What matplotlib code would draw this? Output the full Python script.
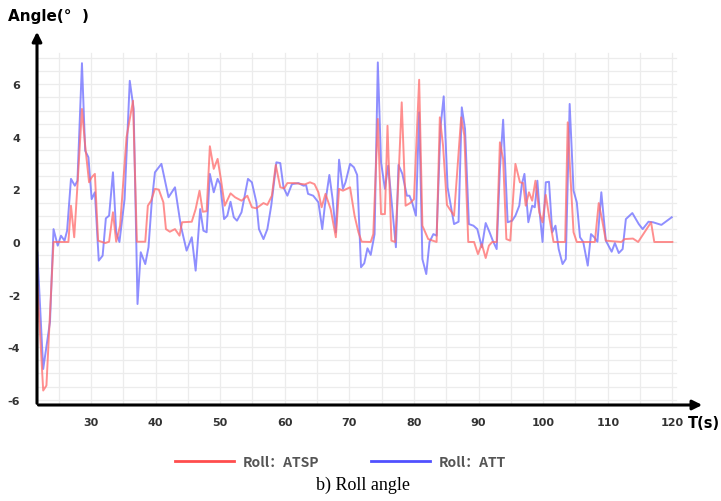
import numpy as np
import matplotlib.pyplot as plt
from matplotlib.lines import Line2D

plt.rcParams['axes.unicode_minus'] = False

# Roll: ATT (blue)
t_att = [21.7, 22.6, 23.65, 24.2, 24.85, 25.35, 25.9, 26.3, 26.9, 27.5, 27.9, 28.6, 29.1, 29.6,
         30.1, 30.6, 31.2, 31.8, 32.3, 32.8, 33.4, 33.9, 34.4, 35.2, 36.0, 36.6, 37.2, 37.7,
         38.4, 38.9, 39.4, 39.9, 40.9, 42.0, 43.0, 43.9, 44.8, 45.6, 46.2, 46.9, 47.4, 47.9,
         48.4, 49.0, 49.6, 50.0, 50.6, 51.1, 51.6, 52.1, 52.6, 53.3, 54.3, 54.9, 55.6, 56.0,
         56.7, 57.3, 57.9, 58.7, 59.3, 59.8, 60.4, 61.1, 62.1, 62.9, 63.3, 63.6, 64.4, 65.2,
         65.8, 66.2, 66.9, 67.4, 67.9, 68.4, 69.0, 69.4, 70.1, 70.7, 71.2, 71.8, 72.3, 72.8,
         73.3, 73.9, 74.4, 74.9, 75.5, 76.0, 76.5, 77.2, 77.6, 78.2, 78.9, 79.3, 79.7, 80.3,
         80.8, 81.3, 81.9, 82.4, 83.0, 83.5, 84.1, 84.6, 85.2, 85.8, 86.2, 86.9, 87.4, 87.9,
         88.5, 89.2, 89.8, 90.5, 91.1, 91.7, 92.2, 92.8, 93.3, 93.8, 94.5, 95.2, 95.7, 96.3,
         96.7, 97.1, 97.7, 98.3, 98.7, 99.1, 99.5, 99.9, 100.4, 100.9, 101.4, 101.9, 102.4,
         103.0, 103.5, 104.1, 104.7, 105.2, 105.7, 106.2, 106.9, 107.4, 107.9, 108.4, 109.0,
         109.7, 110.6, 111.1, 111.7, 112.3, 112.8, 113.8, 114.8, 115.4, 116.3, 117.0, 118.3, 119.9]
roll_att = [-0.4, -4.83, -3.04, 0.49, -0.14, 0.24, 0.05, 0.43, 2.4, 2.14, 2.33, 6.8, 3.47, 3.22,
            1.63, 1.89, -0.71, -0.52, 0.9, 1.0, 2.65, 0.37, 0.0, 1.63, 6.13, 5.06, -2.36, -0.39,
            -0.84, -0.2, 1.51, 2.65, 2.97, 1.7, 2.08, 0.62, -0.33, 0.18, -1.09, 1.25, 0.43, 0.37,
            2.59, 1.89, 2.4, 2.2, 0.87, 1.0, 1.53, 0.94, 0.81, 1.13, 2.4, 2.27, 1.51, 0.49,
            0.11, 0.49, 1.38, 3.03, 3.0, 2.08, 1.76, 2.2, 2.24, 2.14, 2.16, 1.83, 1.76, 1.51,
            0.49, 1.38, 2.55, 1.63, 0.37, 3.13, 2.02, 2.27, 2.97, 2.84, 2.55, -0.96, -0.81, -0.24,
            -0.49, 0.3, 6.83, 3.03, 2.02, 2.9, 1.63, -0.2, 2.93, 2.59, 1.76, 1.76, 1.51, 1.0,
            4.93, -0.65, -1.22, 0.0, 0.3, 0.24, 4.36, 5.54, 2.08, 1.25, 0.68, 0.77, 5.12, 4.3,
            0.68, 0.62, 0.49, -0.2, 0.72, 0.37, 0.05, -0.27, 2.78, 4.65, 0.75, 0.81, 1.0, 1.38,
            2.2, 2.59, 0.75, 1.38, 1.32, 2.33, 1.0, 0.0, 2.27, 2.29, 0.37, 0.62, -0.27,
            -0.84, -0.65, 5.25, 1.95, 1.51, 0.18, 0.0, -0.9, 0.3, 0.18, 0.01, 1.89,
            0.05, -0.37, -0.04, -0.42, -0.27, 0.87, 1.1, 0.68, 0.49, 0.77, 0.75, 0.65, 0.94]

# Roll: ATSP (red)
t_atsp = [21.7, 22.6, 23.1, 24.2, 26.5, 26.9, 27.4, 27.9, 28.6, 29.1, 29.7, 30.1, 30.6, 31.1,
          32.2, 32.8, 33.4, 33.9, 34.5, 35.5, 36.5, 37.1, 38.4, 38.8, 39.3, 39.9, 40.5, 41.2,
          41.6, 42.2, 43.0, 43.7, 44.1, 45.6, 46.2, 46.8, 47.3, 47.9, 48.4, 49.0, 49.6, 50.1,
          50.7, 51.6, 52.3, 53.3, 54.2, 54.9, 55.6, 56.7, 57.3, 58.0, 58.6, 59.3, 59.9, 60.4,
          61.5, 63.1, 63.9, 64.6, 65.2, 65.7, 66.3, 67.1, 67.9, 68.4, 69.0, 70.1, 70.8, 71.4,
          71.9, 73.3, 73.7, 74.4, 74.9, 75.5, 75.9, 76.5, 77.1, 77.6, 78.1, 78.7, 79.4, 80.0,
          80.8, 81.3, 82.2, 83.5, 84.0, 84.5, 85.1, 85.7, 86.2, 87.3, 87.8, 88.4, 89.3, 89.9,
          90.5, 91.1, 91.6, 92.1, 92.8, 93.3, 93.8, 94.3, 94.9, 95.7, 96.4, 96.9, 97.3, 97.8,
          98.3, 98.8, 99.4, 99.9, 100.4, 100.9, 101.6, 103.4, 103.8, 104.1, 104.7, 105.2,
          108.0, 108.6, 109.1, 109.7, 112.1, 112.6, 113.9, 114.7, 116.7, 117.2, 120.0]
roll_atsp = [-1.66, -5.65, -5.46, 0.0, 0.0, 1.38, 0.18, 2.14, 5.06, 3.66, 2.27, 2.46, 2.59, 0.05,
             -0.04, 0.01, 1.13, 0.01, 0.62, 3.98, 5.37, 0.01, 0.01, 1.38, 1.57, 2.02, 1.99, 1.51,
             0.49, 0.39, 0.49, 0.24, 0.75, 0.77, 1.25, 1.95, 1.15, 1.17, 3.64, 2.78, 3.16, 2.4,
             1.38, 1.85, 1.7, 1.57, 1.76, 1.32, 1.28, 1.48, 1.41, 1.76, 2.93, 2.08, 2.04, 2.24,
             2.24, 2.19, 2.27, 2.2, 1.89, 1.32, 1.83, 1.25, 0.18, 2.02, 1.95, 2.08, 1.0, 0.37,
             0.01, 0.0, 0.3, 4.68, 1.06, 1.06, 4.42, 0.05, 0.0, 2.4, 5.31, 1.38, 1.48, 1.63,
             6.17, 0.62, 0.11, 0.0, 4.74, 3.66, 1.41, 1.19, 1.0, 4.74, 4.04, 0.0, 0.0, -0.46,
             -0.08, -0.61, -0.14, 0.0, 0.0, 3.79, 3.16, 0.11, 0.05, 2.97, 2.27, 2.24, 1.38, 1.89,
             1.57, 2.33, 1.13, 0.75, 1.79, 1.0, 0.0, 0.0, 4.55, 3.03, 0.37, 0.0,
             0.0, 1.48, 0.87, 0.05, 0.0, 0.11, 0.13, 0.0, 0.75, 0.0, 0.0]

x_ticks = [30, 40, 50, 60, 70, 80, 90, 100, 110, 120]
y_ticks = [-6, -4, -2, 0, 2, 4, 6]

cjk = ['Noto Sans CJK SC', 'DejaVu Sans']

fig = plt.figure(figsize=(7.21, 5.02), dpi=100)
ax = fig.add_axes([37 / 721, 1 - 406 / 502, (705 - 37) / 721, (406 - 30) / 502])
ax.set_xlim(21.64, 125.05)
ax.set_ylim(-6.2, 8.1)

# light grid, only over the data region
for gx in np.arange(25, 121, 5):
    ax.plot([gx, gx], [-6.2, 7.2], color='#ececec', lw=0.9, zorder=0)
for gy in np.arange(-6, 7.01, 0.5):
    ax.plot([21.64, 120.5], [gy, gy], color='#ececec', lw=0.9, zorder=0)

ax.plot(t_att, roll_att, color='#6a6aff', lw=1.4, alpha=0.75, zorder=2)
ax.plot(t_atsp, roll_atsp, color='#ff6a6a', lw=1.4, alpha=0.75, zorder=3)

# axes with arrow heads
for s in ax.spines.values():
    s.set_visible(False)
ax.annotate('', xy=(0, 1), xycoords='axes fraction', xytext=(0, -0.003),
            arrowprops=dict(arrowstyle='-|>', lw=2.2, color='black', mutation_scale=14))
ax.annotate('', xy=(1, 0), xycoords='axes fraction', xytext=(-0.002, 0),
            arrowprops=dict(arrowstyle='-|>', lw=2.2, color='black', mutation_scale=14))

ax.set_xticks(x_ticks)
ax.set_yticks(y_ticks)
ax.tick_params(length=0, labelsize=8, labelcolor='#333333')
ax.tick_params(axis='y', pad=12)
ax.tick_params(axis='x', pad=9)
for lab in ax.get_xticklabels() + ax.get_yticklabels():
    lab.set_fontweight('bold')

fig.text(8 / 721, 1 - 17 / 502, 'Angle(°  )', fontsize=11, fontweight='bold',
         ha='left', va='center')
fig.text(688 / 721, 1 - 423 / 502, 'T(s)', fontsize=10.5, fontweight='bold',
         ha='left', va='center')

handles = [Line2D([], [], color='#ff4d4d', lw=2),
           Line2D([], [], color='#5050ff', lw=2)]
fig.legend(handles, ['Roll：ATSP', 'Roll：ATT'], loc='center', bbox_to_anchor=(0.472, 0.078),
           ncol=2, frameon=False, handlelength=4.3, handletextpad=0.6, columnspacing=3.7,
           prop={'family': cjk, 'weight': 'bold', 'size': 10}, labelcolor='#555555')

fig.text(0.503, 1 - 485 / 502, 'b) Roll angle', fontsize=13, family='Liberation Serif',
         ha='center', va='center')

fig.savefig('out.png', dpi=100)
